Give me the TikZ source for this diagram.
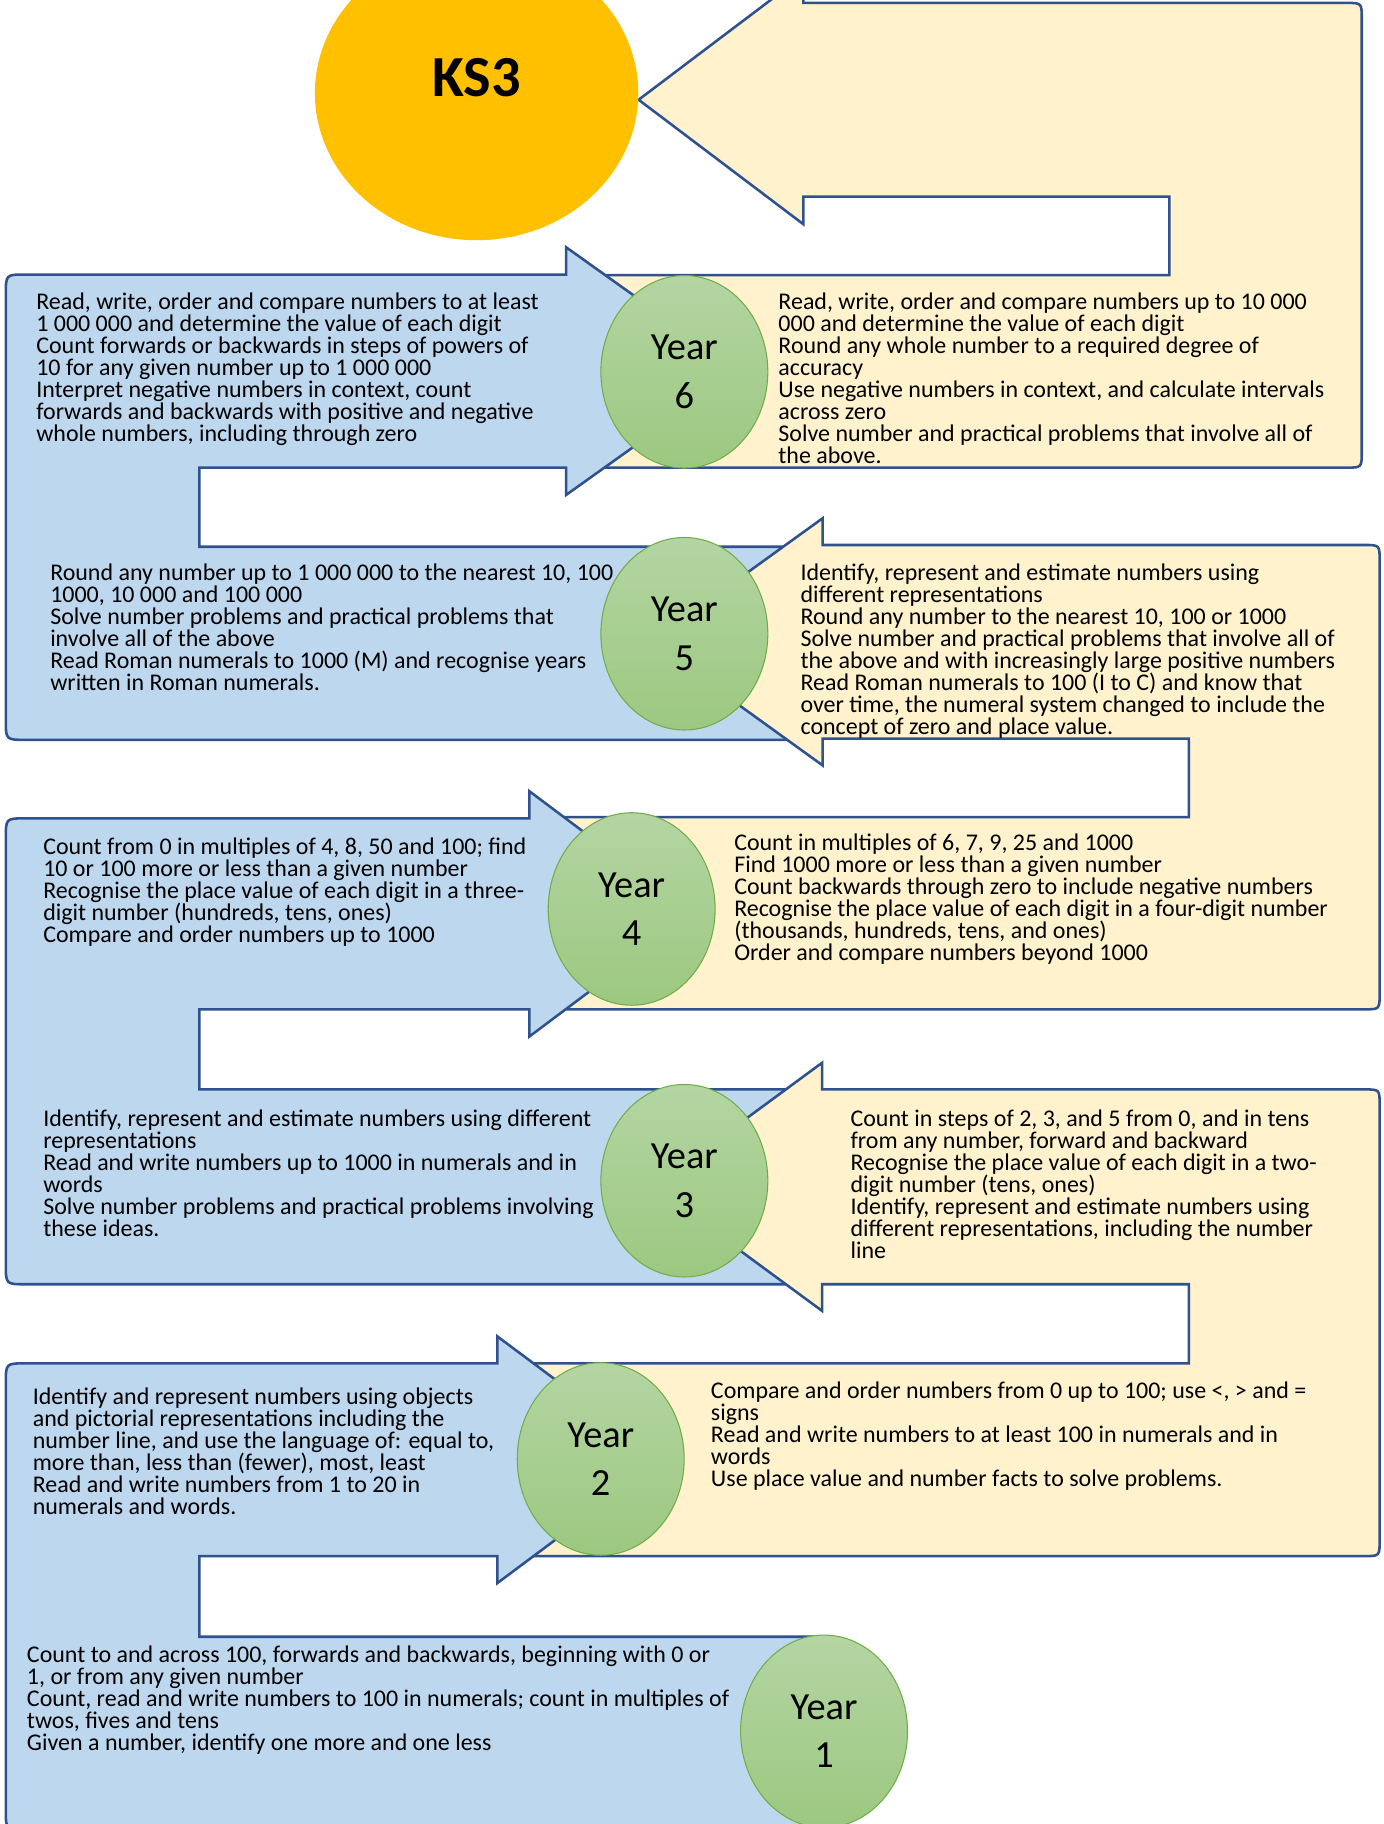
\documentclass[tikz,border=0pt]{standalone}
\usepackage{fontspec}
\setmainfont{Carlito}
\usepackage{tikz}
\usetikzlibrary{shapes.geometric}
\definecolor{ablue}{HTML}{BDD7EE}
\definecolor{ayellow}{HTML}{FFF2CC}
\definecolor{aline}{HTML}{2F528F}
\definecolor{korange}{HTML}{FFC000}
\definecolor{gtop}{HTML}{B4D5A3}
\definecolor{gbot}{HTML}{9CC880}
\definecolor{gline}{HTML}{70AD47}
\tikzset{bluearrow/.style = {fill=ablue, draw=aline, line width=2.2pt}}
\tikzset{yellowarrow/.style = {fill=ayellow, draw=aline, line width=2.2pt}}
\tikzset{yearoval/.style = {ellipse, draw=gline, line width=0.9pt, top color=gtop, bottom color=gbot,
                            minimum width=143.5pt, minimum height=165.5pt, inner sep=0, align=center,
                            font=\fontsize{33}{41.6}\selectfont}}
\tikzset{ksoval/.style = {ellipse, fill=korange, minimum width=278pt, minimum height=253pt, inner sep=0,
                          text height=32pt, text depth=26.2pt, font=\fontsize{50}{60}\selectfont\bfseries}}
\tikzset{goaltext/.style = {anchor=north west, align=left, inner sep=0, font=\fontsize{20.6}{18.9}\selectfont}}

\begin{document}
\begin{tikzpicture}[x=1pt, y=-1pt]
    \useasboundingbox (0,0) rectangle (1189,1568);
    \clip (0,0) rectangle (1189,1568);

    % u-turn arrows, drawn from the top down
    \draw [yellowarrow] (549,85.75) -- (690.6,-21.25) -- (690.6,2.5) -- (1157,2.5) .. controls (1170.6,2.5) .. (1170.6,16)
        -- (1170.6,388.5) .. controls (1170.6,402) .. (1157,402) -- (505,402) -- (505,236.5) -- (1005.3,236.5)
        -- (1005.3,169) -- (690.6,169) -- (690.6,192.75) -- cycle;
    \draw [bluearrow] (636,319) -- (486.6,425.5) -- (486.6,402) -- (171.4,402) -- (171.4,470) -- (700,470)
        -- (700,636) -- (22,636) .. controls (5,636) .. (5,619) -- (5,253) .. controls (5,236) .. (22,236)
        -- (486.6,236) -- (486.6,212.5) -- cycle;
    \draw [yellowarrow] (560,551.75) -- (707.2,445.5) -- (707.2,468.5) -- (1172.5,468.5) .. controls (1186,468.5) .. (1186,482)
        -- (1186,854) .. controls (1186,867.7) .. (1172.5,867.7) -- (480,867.7) -- (480,702.4) -- (1022,702.4)
        -- (1022,635) -- (707.2,635) -- (707.2,658) -- cycle;
    \draw [bluearrow] (595.7,785.6) -- (455.1,891) -- (455.1,867.7) -- (171.4,867.7) -- (171.4,936.5) -- (700,936.5)
        -- (700,1104) -- (22,1104) .. controls (5,1104) .. (5,1087) -- (5,720.5) .. controls (5,703.5) .. (22,703.5)
        -- (455.1,703.5) -- (455.1,680.2) -- cycle;
    \draw [yellowarrow] (561.7,1020.25) -- (706.7,913.6) -- (706.7,936.5) -- (1172.5,936.5) .. controls (1186,936.5) .. (1186,950)
        -- (1186,1324) .. controls (1186,1337.7) .. (1172.5,1337.7) -- (450,1337.7) -- (450,1172) -- (1022,1172)
        -- (1022,1104) -- (706.7,1104) -- (706.7,1126.9) -- cycle;
    \draw [bluearrow] (569.7,1254.85) -- (427.6,1360.85) -- (427.6,1337.7) -- (171.4,1337.7) -- (171.4,1407) -- (708,1407)
        -- (708,1573) -- (22,1573) .. controls (5,1573) .. (5,1556) -- (5,1189) .. controls (5,1172) .. (22,1172)
        -- (427.6,1172) -- (427.6,1148.85) -- cycle;

    \node [ksoval] (ks3) at (409.7,80) {KS3};
    \node [yearoval] (y6) at (588.3,319.6) {Year\\6};
    \node [yearoval] (y5) at (588.3,544.8) {Year\\5};
    \node [yearoval] (y4) at (543,781.4) {Year\\4};
    \node [yearoval] (y3) at (588.3,1015) {Year\\3};
    \node [yearoval] (y2) at (516.4,1254.2) {Year\\2};
    \node [yearoval] (y1) at (708.4,1488.3) {Year\\1};

    \node [goaltext] (y6left) at (31,251.9) {Read, write, order and compare numbers to at least\\1 000 000 and determine the value of each digit\\Count forwards or backwards in steps of powers of\\10 for any given number up to 1 000 000\\Interpret negative numbers in context, count\\forwards and backwards with positive and negative\\whole numbers, including through zero};
    \node [goaltext] (y6right) at (669,251.9) {Read, write, order and compare numbers up to 10 000\\000 and determine the value of each digit\\Round any whole number to a required degree of\\accuracy\\Use negative numbers in context, and calculate intervals\\across zero\\Solve number and practical problems that involve all of\\the above.};
    \node [goaltext] (y5left) at (43,484.7) {Round any number up to 1 000 000 to the nearest 10, 100\\1000, 10 000 and 100 000\\Solve number problems and practical problems that\\involve all of the above\\Read Roman numerals to 1000 (M) and recognise years\\written in Roman numerals.};
    \node [goaltext] (y5right) at (688,484.7) {Identify, represent and estimate numbers using\\different representations\\Round any number to the nearest 10, 100 or 1000\\Solve number and practical problems that involve all of\\the above and with increasingly large positive numbers\\Read Roman numerals to 100 (I to C) and know that\\over time, the numeral system changed to include the\\concept of zero and place value.};
    \node [goaltext] (y4left) at (37,719.7) {Count from 0 in multiples of 4, 8, 50 and 100; find\\10 or 100 more or less than a given number\\Recognise the place value of each digit in a three-\\digit number (hundreds, tens, ones)\\Compare and order numbers up to 1000};
    \node [goaltext] (y4right) at (631,716.7) {Count in multiples of 6, 7, 9, 25 and 1000\\Find 1000 more or less than a given number\\Count backwards through zero to include negative numbers\\Recognise the place value of each digit in a four-digit number\\(thousands, hundreds, tens, and ones)\\Order and compare numbers beyond 1000};
    \node [goaltext] (y3left) at (37,953.7) {Identify, represent and estimate numbers using different\\representations\\Read and write numbers up to 1000 in numerals and in\\words\\Solve number problems and practical problems involving\\these ideas.};
    \node [goaltext] (y3right) at (731,953.7) {Count in steps of 2, 3, and 5 from 0, and in tens\\from any number, forward and backward\\Recognise the place value of each digit in a two-\\digit number (tens, ones)\\Identify, represent and estimate numbers using\\different representations, including the number\\line};
    \node [goaltext] (y2left) at (28,1193.2) {Identify and represent numbers using objects\\and pictorial representations including the\\number line, and use the language of: equal to,\\more than, less than (fewer), most, least\\Read and write numbers from 1 to 20 in\\numerals and words.};
    \node [goaltext] (y2right) at (611,1187.7) {Compare and order numbers from 0 up to 100; use <, > and =\\signs\\Read and write numbers to at least 100 in numerals and in\\words\\Use place value and number facts to solve problems.};
    \node [goaltext] (y1left) at (23,1414.7) {Count to and across 100, forwards and backwards, beginning with 0 or\\1, or from any given number\\Count, read and write numbers to 100 in numerals; count in multiples of\\twos, fives and tens\\Given a number, identify one more and one less};
\end{tikzpicture}
\end{document}
